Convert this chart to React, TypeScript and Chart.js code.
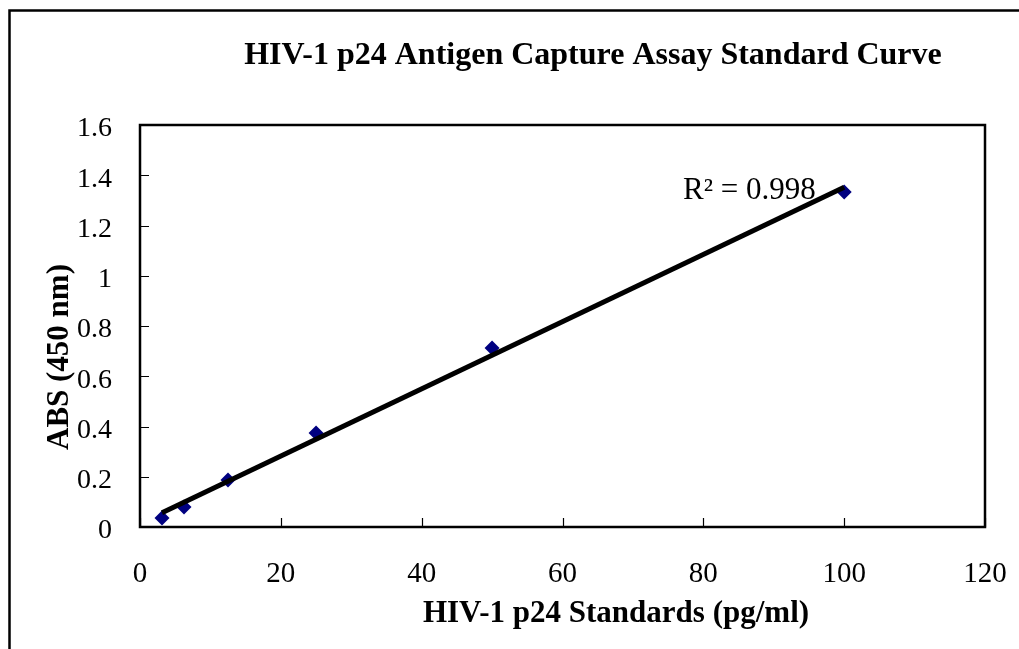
import React, { useEffect, useRef } from "react";
import { Chart, registerables } from "chart.js";

Chart.register(...registerables);

// ---- data ----
const standards = [3.125, 6.25, 12.5, 25, 50, 100];
const absorbance = [0.036, 0.08, 0.187, 0.374, 0.712, 1.333];
const xTickValues = [0, 20, 40, 60, 80, 100, 120];
const yTickValues = [0, 0.2, 0.4, 0.6, 0.8, 1, 1.2, 1.4, 1.6];
const chartTitle = "HIV-1 p24 Antigen Capture Assay Standard Curve";
const xAxisTitle = "HIV-1 p24 Standards (pg/ml)";
const yAxisTitle = "ABS (450 nm)";
const r2Label = "R² = 0.998";

const SERIF = "'Liberation Serif', 'Times New Roman', serif";

// least-squares linear trendline (like Excel's)
function linearFit(xs: number[], ys: number[]) {
  const n = xs.length;
  const mx = xs.reduce((a, b) => a + b, 0) / n;
  const my = ys.reduce((a, b) => a + b, 0) / n;
  let sxy = 0;
  let sxx = 0;
  for (let i = 0; i < n; i++) {
    sxy += (xs[i] - mx) * (ys[i] - my);
    sxx += (xs[i] - mx) * (xs[i] - mx);
  }
  const slope = sxy / sxx;
  return { slope, intercept: my - slope * mx };
}

const decorPlugin = {
  id: "excelDecor",
  beforeDatasetsDraw(chart: any) {
    const { ctx, chartArea } = chart;
    const xs = chart.scales.x;
    const ys = chart.scales.y;
    const { left, top, right, bottom } = chartArea;
    ctx.save();
    // outer chart frame (continues past the window)
    ctx.strokeStyle = "#000";
    ctx.lineWidth = 2.5;
    ctx.beginPath();
    ctx.moveTo(9.5, chart.height + 2);
    ctx.lineTo(9.5, 10.5);
    ctx.lineTo(chart.width + 2, 10.5);
    ctx.stroke();
    // plot area frame
    ctx.lineWidth = 2.5;
    ctx.strokeRect(left, top, right - left, bottom - top);
    // inside tick marks
    ctx.lineWidth = 1.2;
    ctx.beginPath();
    xTickValues.forEach((v) => {
      const px = Math.round(xs.getPixelForValue(v)) + 0.5;
      ctx.moveTo(px, bottom);
      ctx.lineTo(px, bottom - 9);
    });
    yTickValues.forEach((v) => {
      const py = Math.round(ys.getPixelForValue(v)) + 0.5;
      ctx.moveTo(left, py);
      ctx.lineTo(left + 9, py);
    });
    ctx.stroke();
    // R² label
    ctx.fillStyle = "#000";
    ctx.font = `31px ${SERIF}`;
    ctx.textAlign = "left";
    ctx.textBaseline = "alphabetic";
    ctx.fillText(r2Label, 683, 199);
    ctx.restore();
  },
  afterDraw(chart: any) {
    const { ctx } = chart;
    ctx.save();
    ctx.fillStyle = "#000";
    ctx.textBaseline = "alphabetic";
    ctx.textAlign = "center";
    // chart title
    ctx.font = `bold 32px ${SERIF}`;
    ctx.fillText(chartTitle, 593, 64);
    // x axis title
    ctx.font = `bold 31px ${SERIF}`;
    ctx.fillText(xAxisTitle, 616, 622);
    // y axis title
    ctx.save();
    ctx.font = `bold 31px ${SERIF}`;
    ctx.translate(68, 357);
    ctx.rotate(-Math.PI / 2);
    ctx.fillText(yAxisTitle, 0, 0);
    ctx.restore();
    ctx.restore();
  },
};

export default function App() {
  const canvasRef = useRef<HTMLCanvasElement | null>(null);

  useEffect(() => {
    const canvas = canvasRef.current;
    if (!canvas) return;
    const { slope, intercept } = linearFit(standards, absorbance);
    const xMin = Math.min(...standards);
    const xMax = Math.max(...standards);
    const trend = [
      { x: xMin, y: intercept + slope * xMin },
      { x: xMax, y: intercept + slope * xMax },
    ];
    const points = standards.map((x, i) => ({ x, y: absorbance[i] }));

    const chart = new Chart(canvas, {
      type: "scatter",
      data: {
        datasets: [
          {
            label: "Linear trendline",
            data: trend,
            showLine: true,
            borderColor: "#000",
            borderWidth: 5,
            pointRadius: 0,
            pointHoverRadius: 0,
            fill: false,
          },
          {
            label: "Standards",
            data: points,
            pointStyle: "rectRot",
            pointRadius: 7.5,
            pointBackgroundColor: "#000080",
            pointBorderColor: "#000080",
            pointBorderWidth: 0,
            showLine: false,
          },
        ],
      },
      options: {
        responsive: false,
        animation: false,
        devicePixelRatio: 1,
        layout: { padding: { left: 0, right: 34, top: 125, bottom: 0 } },
        plugins: {
          legend: { display: false },
          title: { display: false },
          tooltip: { enabled: false },
        },
        scales: {
          x: {
            type: "linear",
            min: 0,
            max: 120,
            grid: { display: false, drawTicks: false },
            border: { display: false },
            afterBuildTicks: (scale: any) => {
              scale.ticks = xTickValues.map((v) => ({ value: v }));
            },
            afterFit: (scale: any) => {
              scale.height = 122;
              scale.paddingLeft = 0;
              scale.paddingRight = 0;
            },
            ticks: {
              color: "#000",
              padding: 30,
              maxRotation: 0,
              font: { family: SERIF, size: 29 },
              callback: (v: any) => String(v),
            },
          },
          y: {
            type: "linear",
            min: 0,
            max: 1.6,
            grid: { display: false, drawTicks: false },
            border: { display: false },
            afterBuildTicks: (scale: any) => {
              scale.ticks = yTickValues.map((v) => ({ value: v }));
            },
            afterFit: (scale: any) => {
              scale.width = 140;
              scale.paddingTop = 0;
              scale.paddingBottom = 0;
            },
            ticks: {
              color: "#000",
              padding: 28,
              labelOffset: 4,
              font: { family: SERIF, size: 28 },
              callback: (v: any) => String(Number(Number(v).toFixed(1))),
            },
          },
        },
      },
      plugins: [decorPlugin],
    } as any);

    return () => chart.destroy();
  }, []);

  return (
    <div
      style={{
        position: "absolute",
        left: 0,
        top: 0,
        width: 1019,
        height: 649,
        background: "#fff",
        overflow: "hidden",
      }}
    >
      <canvas ref={canvasRef} width={1019} height={649} />
    </div>
  );
}
